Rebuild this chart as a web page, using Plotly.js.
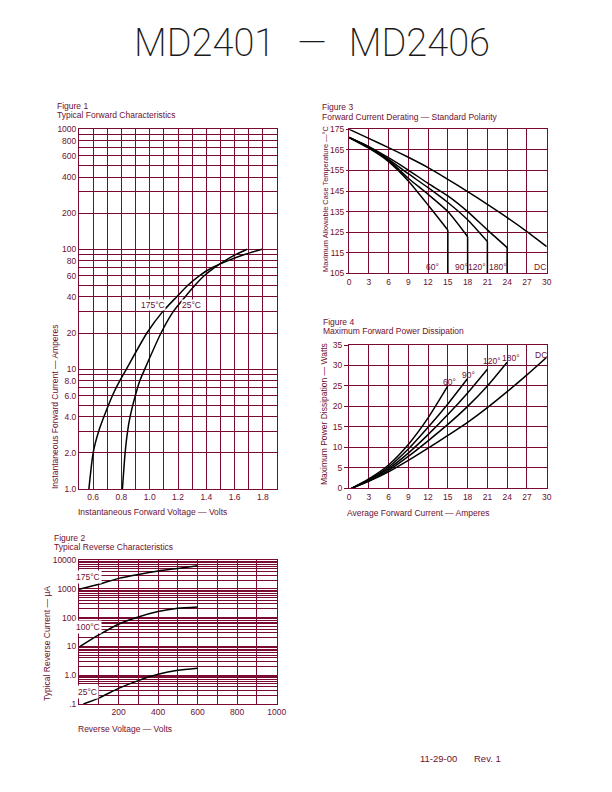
<!DOCTYPE html>
<html><head><meta charset="utf-8">
<script src="https://cdn.plot.ly/plotly-3.0.1.min.js"></script>
<style>html,body{margin:0;padding:0;background:#fff;}#chart{width:612px;height:792px;}</style>
</head><body><div id="chart"></div>
<script>
// ---------- Figure 1: Typical Forward Characteristics ----------
const fig1Volt175 = [0.57, 0.60, 0.638, 0.676, 0.736, 0.789, 0.835, 0.98, 1.09, 1.19, 1.27, 1.35, 1.44, 1.55, 1.665, 1.794];
const fig1Amp175  = [1, 2, 3, 4, 6, 8, 10, 20, 30, 40, 50, 60, 70, 80, 90, 100];
const fig1Volt25  = [0.807, 0.826, 0.843, 0.861, 0.898, 0.93, 0.965, 1.08, 1.165, 1.25, 1.32, 1.385, 1.455, 1.53, 1.607, 1.688];
const fig1Amp25   = [1, 2, 3, 4, 6, 8, 10, 20, 30, 40, 50, 60, 70, 80, 90, 100];
const fig1XTicks  = [0.5,0.6,0.7,0.8,0.9,1.0,1.1,1.2,1.3,1.4,1.5,1.6,1.7,1.8,1.9];
const fig1XLabels = ['','0.6','','0.8','','1.0','','1.2','','1.4','','1.6','','1.8',''];
const fig1YTicks  = [1,2,3,4,5,6,7,8,9,10,20,30,40,50,60,70,80,90,100,200,300,400,500,600,700,800,900,1000];
const fig1YLabels = ['1.0','2.0','','4.0','','6.0','','8.0','','10','20','','40','','60','','80','','100','200','','400','','600','','800','','1000'];

// ---------- Figure 2: Typical Reverse Characteristics ----------
const fig2Volt175 = [0, 100, 200, 300, 400, 500, 600];
const fig2uA175   = [960, 1430, 2300, 3160, 4150, 5100, 6300];
const fig2Volt100 = [0, 100, 200, 300, 400, 500, 600];
const fig2uA100   = [9.5, 25, 59, 105, 162, 210, 233];
const fig2Volt25  = [22, 100, 200, 300, 400, 500, 600];
const fig2uA25    = [0.1, 0.16, 0.35, 0.65, 1.07, 1.48, 1.74];
const fig2XTicks  = [0,100,200,300,400,500,600,700,800,900,1000];
const fig2XLabels = ['','','200','','400','','600','','800','','1000'];
const fig2Decades = [0.1, 1, 10, 100, 1000];
const fig2DecadeLabels = ['.1','1.0','10','100','1000','10000'];

// ---------- Figure 3: Forward Current Derating ----------
const fig3Amp60  = [0, 3, 6, 9, 12, 15];
const fig3Temp60 = [171, 165.8, 159.3, 149.9, 138.2, 126];
const fig3Amp90  = [0, 3, 6, 9, 12, 15, 18];
const fig3Temp90 = [171, 166.2, 160, 151.2, 143.4, 135, 122.8];
const fig3Amp120  = [0, 3, 6, 9, 12, 15, 18, 21];
const fig3Temp120 = [171, 166.4, 160.4, 153.4, 146.6, 139.4, 131, 120.4];
const fig3Amp180  = [0, 3, 6, 9, 12, 15, 18, 21, 24];
const fig3Temp180 = [171, 166.6, 161.2, 155.2, 148.7, 142.6, 135, 126.1, 117.5];
const fig3AmpDC  = [0, 3, 6, 9, 12, 15, 18, 21, 24, 27, 30];
const fig3TempDC = [175, 170.6, 166.1, 161.4, 156.4, 150.7, 144.7, 138.5, 132.1, 125.3, 118];
const fig3Labels = ['60°','90°','120°','180°','DC'];
const fig3LabelX = [12.7, 17.0, 19.4, 22.6, 29.0];

// ---------- Figure 4: Maximum Forward Power Dissipation ----------
const fig4Amp60  = [0.4, 3, 6, 9, 12, 15];
const fig4Watt60 = [0, 2.3, 5.7, 10.7, 17.2, 25];
const fig4Amp90  = [0.4, 3, 6, 9, 12, 15, 18];
const fig4Watt90 = [0, 2.1, 5.2, 9.6, 14.9, 20.6, 26.8];
const fig4Amp120  = [0.4, 3, 6, 9, 12, 15, 18, 21];
const fig4Watt120 = [0, 2.0, 4.8, 8.6, 13.1, 18.0, 23.3, 29.1];
const fig4Amp180  = [0.4, 3, 6, 9, 12, 15, 18, 21, 24];
const fig4Watt180 = [0, 1.8, 4.4, 7.8, 11.6, 15.6, 20, 25, 30.8];
const fig4AmpDC  = [0.4, 3, 6, 9, 12, 15, 18, 21, 24, 27, 30];
const fig4WattDC = [0, 1.7, 4.0, 6.8, 9.8, 12.9, 16.1, 19.7, 23.6, 27.7, 32];
const fig4Labels = ['60°','90°','120°','180°','DC'];
const fig4LabelX = [15.3, 18.2, 21.65, 24.6, 29.1];
const fig4LabelY = [25.9, 27.6, 31.0, 31.75, 32.6];

// ---------- styling ----------
const W = 612, H = 792;
const GRID = '#7a0a32';
const TXT = '#6e1030';
const FONT = 'Liberation Sans, Arial, sans-serif';
const FS = 8.5;
const NB = '\u00a0';
const dx = (a, b) => [a / W, b / W];
const dy = (top, bot) => [1 - bot / H, 1 - top / H];

function ax(extra) {
  return Object.assign({
    showgrid: true, gridcolor: GRID, gridwidth: 1, zeroline: false,
    showline: true, linecolor: GRID, linewidth: 1, mirror: true,
    ticks: '', tickfont: {family: FONT, size: FS, color: TXT}, fixedrange: true
  }, extra);
}

// log grid for figure 2
const fig2YTicks = [], fig2YLabels = [];
fig2Decades.forEach((d, i) => {
  for (let m = 1; m <= 9; m++) {
    fig2YTicks.push(d * m);
    fig2YLabels.push(m === 1 ? fig2DecadeLabels[i] : '');
  }
});
fig2YTicks.push(10000); fig2YLabels.push(fig2DecadeLabels[5]);

const line = {color: '#000', width: 1.5, shape: 'spline', smoothing: 0.6};
const traces = [];
function add(x, y, xa, ya) { traces.push({x, y, xaxis: xa, yaxis: ya, mode: 'lines', line, hoverinfo: 'skip', showlegend: false}); }

add(fig1Volt175, fig1Amp175, 'x', 'y');
add(fig1Volt25, fig1Amp25, 'x', 'y');
add(fig2Volt175, fig2uA175, 'x2', 'y2');
add(fig2Volt100, fig2uA100, 'x2', 'y2');
add(fig2Volt25, fig2uA25, 'x2', 'y2');
const fig3Series = [[fig3Amp60, fig3Temp60], [fig3Amp90, fig3Temp90], [fig3Amp120, fig3Temp120], [fig3Amp180, fig3Temp180], [fig3AmpDC, fig3TempDC]];
fig3Series.forEach(s => add(s[0], s[1], 'x3', 'y3'));
const fig3YMin = 105;
const dropX = [], dropY = [];
fig3Series.slice(0, 4).forEach(s => {
  const n = s[0].length - 1;
  dropX.push(s[0][n], s[0][n], null);
  dropY.push(s[1][n], fig3YMin, null);
});
traces.push({x: dropX, y: dropY, xaxis: 'x3', yaxis: 'y3', mode: 'lines', line: {color: '#000', width: 1.5}, hoverinfo: 'skip', showlegend: false});
[[fig4Amp60, fig4Watt60], [fig4Amp90, fig4Watt90], [fig4Amp120, fig4Watt120], [fig4Amp180, fig4Watt180], [fig4AmpDC, fig4WattDC]].forEach(s => add(s[0], s[1], 'x4', 'y4'));

// ---------- annotations ----------
const ann = [];
function pt(text, px, py, o) {
  ann.push(Object.assign({text, xref: 'paper', yref: 'paper', x: px / W, y: 1 - py / H,
    xanchor: 'left', yanchor: 'middle', showarrow: false,
    font: {family: FONT, size: FS, color: TXT}}, o || {}));
}
function dt(text, x, y, xr, yr, o) {
  ann.push(Object.assign({text, xref: xr, yref: yr, x, y, xanchor: 'center', yanchor: 'middle',
    showarrow: false, font: {family: FONT, size: FS, color: TXT}}, o || {}));
}
// main title and footer
pt('MD2401' + NB + NB + '\u200a\u2014' + NB + NB + '\u200aMD2406', 312, 43, {xanchor: 'center', font: {family: 'Roboto, sans-serif', size: 38, color: '#1a1a1a', weight: 200}});
pt('11-29-00', 418, 758, {font: {family: FONT, size: 9.5, color: TXT}});
pt('Rev. 1', 472, 758, {font: {family: FONT, size: 9.5, color: TXT}});
// figure titles
pt('Figure 1', 55, 106); pt('Typical Forward Characteristics', 55, 114.5);
pt('Figure 2', 52, 538); pt('Typical Reverse Characteristics', 52, 546.5);
pt('Figure 3', 320, 107.5); pt('Forward Current Derating \u2014 Standard Polarity', 320, 117);
pt('Figure 4', 321, 322); pt('Maximum Forward Power Dissipation', 321, 330.5);
// axis titles
pt('Instantaneous Forward Voltage \u2014 Volts', 152, 512, {xanchor: 'center'});
pt('Instantaneous Forward Current \u2014 Amperes', 55, 407, {xanchor: 'center', textangle: -90});
pt('Reverse Voltage \u2014 Volts', 124.5, 728.5, {xanchor: 'center'});
pt('Typical Reverse Current \u2014 \u03bcA', 47, 644, {xanchor: 'center', textangle: -90});
pt('Maximum Allowable Case Temperature \u2014\u00b0C', 325, 199, {xanchor: 'center', textangle: -90, font: {family: FONT, size: 7.4, color: TXT}});
pt('Maximum Power Dissipation \u2014 Watts', 324, 414, {xanchor: 'center', textangle: -90});
pt('Average Forward Current \u2014 Amperes', 418, 513, {xanchor: 'center'});
// curve labels
dt('175°C', 1.02, Math.log10(34), 'x', 'y', {bgcolor: '#fff', borderpad: 0});
dt('25°C', 1.293, Math.log10(34), 'x', 'y', {bgcolor: '#fff', borderpad: 0});
dt('175°C', 47, Math.log10(2630), 'x2', 'y2', {bgcolor: '#fff'});
dt('100°C', 44, Math.log10(49), 'x2', 'y2', {bgcolor: '#fff'});
dt('25°C', 43, Math.log10(0.27), 'x2', 'y2', {bgcolor: '#fff'});
fig3Labels.forEach((t, i) => dt(t, fig3LabelX[i], 108.2, 'x3', 'y3'));
fig4Labels.forEach((t, i) => dt(t, fig4LabelX[i], fig4LabelY[i], 'x4', 'y4'));

const layout = {
  width: W, height: H, margin: {l: 0, r: 0, t: 0, b: 0},
  paper_bgcolor: '#fff', plot_bgcolor: '#fff', showlegend: false,
  font: {family: FONT, size: FS, color: TXT},
  xaxis: ax({domain: dx(79, 277), anchor: 'y', range: [0.5, 1.9], tickmode: 'array', tickvals: fig1XTicks, ticktext: fig1XLabels}),
  yaxis: ax({domain: dy(129.3, 489), anchor: 'x', type: 'log', range: [0, 3], tickmode: 'array', tickvals: fig1YTicks, ticktext: fig1YLabels}),
  xaxis2: ax({domain: dx(79, 276.7), anchor: 'y2', range: [0, 1000], tickmode: 'array', tickvals: fig2XTicks, ticktext: fig2XLabels}),
  yaxis2: ax({domain: dy(560, 704), anchor: 'x2', type: 'log', range: [-1, 4], tickmode: 'array', tickvals: fig2YTicks, ticktext: fig2YLabels}),
  xaxis3: ax({domain: dx(349, 546.7), anchor: 'y3', range: [0, 30], tickmode: 'linear', tick0: 0, dtick: 3}),
  yaxis3: ax({domain: dy(129.3, 273.3), anchor: 'x3', range: [105, 175], tickmode: 'linear', tick0: 105, dtick: 10, ticks: 'outside', ticklen: 2, tickcolor: GRID}),
  xaxis4: ax({domain: dx(349, 546.7), anchor: 'y4', range: [0, 30], tickmode: 'linear', tick0: 0, dtick: 3}),
  yaxis4: ax({domain: dy(345, 488.3), anchor: 'x4', range: [0, 35], tickmode: 'linear', tick0: 0, dtick: 5, ticks: 'outside', ticklen: 4, tickcolor: GRID}),
  annotations: ann
};
Plotly.newPlot('chart', traces, layout, {staticPlot: true, displayModeBar: false});
</script></body></html>
